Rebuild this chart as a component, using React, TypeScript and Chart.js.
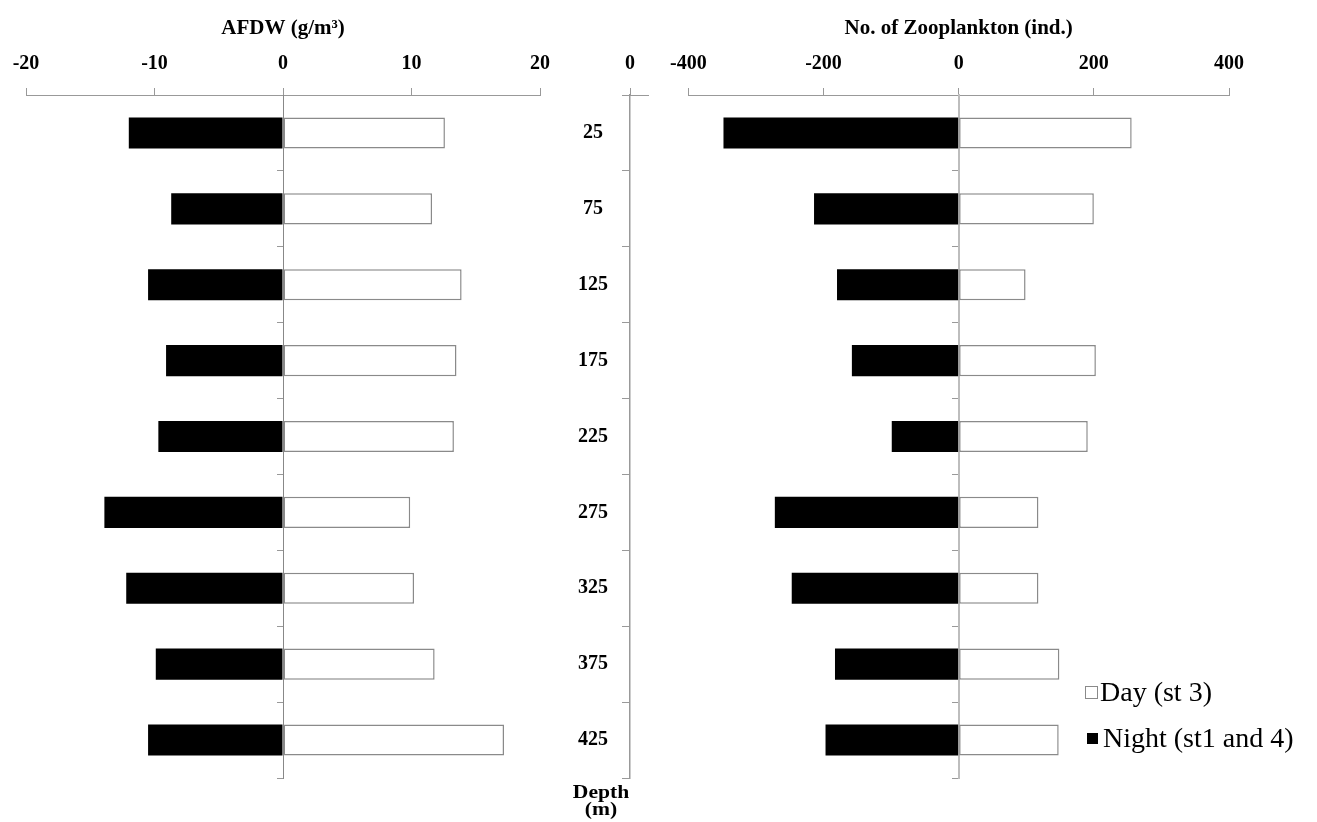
import React, { useEffect, useRef } from "react";
import { Chart, registerables } from "chart.js";

Chart.register(...registerables);

const SERIF = '"Liberation Serif", "Times New Roman", Times, serif';

// ---- data ----
const depths = ["25", "75", "125", "175", "225", "275", "325", "375", "425"];
const afdwNight = [-12.0, -8.7, -10.5, -9.1, -9.7, -13.9, -12.2, -9.9, -10.5];
const afdwDay = [12.6, 11.6, 13.9, 13.5, 13.3, 9.9, 10.2, 11.8, 17.2];
const zooNight = [-348, -214, -180, -158, -99, -272, -247, -183, -197];
const zooDay = [256, 200, 99, 203, 191, 118, 118, 149, 148];
const afdwTicks = [-20, -10, 0, 10, 20];
const zooTicks = [-400, -200, 0, 200, 400];
const centerTicks = [0];
const dayLabel = "Day (st 3)";
const nightLabel = "Night (st1 and 4)";

const AXIS_H = 95;

function sideConfig(
  night: number[],
  day: number[],
  ticks: number[],
  title: string,
  padding: { left: number; right: number },
  zeroColor: string,
  zeroWidth: number
): any {
  return {
    type: "bar",
    data: {
      labels: depths,
      datasets: [
        {
          label: nightLabel,
          data: night,
          backgroundColor: "#000",
          borderColor: "#000",
          borderWidth: 0,
          barPercentage: 0.41,
          categoryPercentage: 1,
        },
        {
          label: dayLabel,
          data: day,
          backgroundColor: "#fff",
          borderColor: "#8a8a8a",
          borderWidth: 1.5,
          borderSkipped: false,
          barPercentage: 0.41,
          categoryPercentage: 1,
        },
      ],
    },
    options: {
      indexAxis: "y",
      animation: false,
      responsive: false,
      layout: { padding: { left: padding.left, right: padding.right, top: 0, bottom: 44 } },
      plugins: { legend: { display: false }, tooltip: { enabled: false } },
      scales: {
        x: {
          type: "linear",
          position: "top",
          stacked: true,
          min: ticks[0],
          max: ticks[ticks.length - 1],
          afterBuildTicks: (s: any) => {
            s.ticks = ticks.map((v) => ({ value: v }));
          },
          afterFit: (s: any) => {
            s.height = AXIS_H;
          },
          ticks: {
            padding: 12,
            color: "#000",
            font: { family: SERIF, size: 20, weight: "bold" },
          },
          grid: { drawOnChartArea: false, tickLength: 7, color: "#999" },
          border: { color: "#999", width: 1 },
          title: {
            display: true,
            text: title,
            color: "#000",
            font: { family: SERIF, size: 21, weight: "bold" },
            padding: { top: 16, bottom: 0 },
          },
        },
        y: {
          type: "category",
          position: { x: 0 },
          stacked: true,
          offset: true,
          ticks: { display: false },
          grid: { offset: true, drawOnChartArea: false, tickLength: 6, color: "#999" },
          border: { color: zeroColor, width: zeroWidth },
        },
      },
    },
  };
}

function centerConfig(): any {
  return {
    type: "bar",
    data: { labels: depths, datasets: [] },
    options: {
      indexAxis: "y",
      animation: false,
      responsive: false,
      layout: { padding: { left: 30, right: 12, top: 0, bottom: 44 } },
      plugins: { legend: { display: false }, tooltip: { enabled: false } },
      scales: {
        x: {
          type: "linear",
          position: "top",
          min: 0,
          max: 1,
          afterBuildTicks: (s: any) => {
            s.ticks = centerTicks.map((v) => ({ value: v }));
          },
          afterFit: (s: any) => {
            s.height = AXIS_H;
          },
          ticks: {
            padding: 12,
            color: "#000",
            font: { family: SERIF, size: 20, weight: "bold" },
          },
          grid: { drawOnChartArea: false, tickLength: 7, color: "#999" },
          border: { color: "#999", width: 1 },
        },
        y: {
          type: "category",
          position: "left",
          offset: true,
          afterFit: (s: any) => {
            s.width = 60;
          },
          ticks: {
            padding: 14,
            crossAlign: "center",
            color: "#000",
            font: { family: SERIF, size: 20, weight: "bold" },
          },
          grid: { offset: true, drawOnChartArea: false, tickLength: 8, color: "#999" },
          border: { color: "#999", width: 1.5 },
        },
      },
    },
  };
}

export default function App() {
  const leftRef = useRef<HTMLCanvasElement>(null);
  const midRef = useRef<HTMLCanvasElement>(null);
  const rightRef = useRef<HTMLCanvasElement>(null);

  useEffect(() => {
    const charts = [
      new Chart(
        leftRef.current!,
        sideConfig(afdwNight, afdwDay, afdwTicks, "AFDW (g/m³)", { left: 26, right: 22 }, "#888", 1)
      ),
      new Chart(midRef.current!, centerConfig()),
      new Chart(
        rightRef.current!,
        sideConfig(zooNight, zooDay, zooTicks, "No. of Zooplankton (ind.)", { left: 30, right: 88 }, "#bdbdbd", 2)
      ),
    ];
    return () => charts.forEach((c) => c.destroy());
  }, []);

  const legendText: React.CSSProperties = {
    fontFamily: SERIF,
    fontSize: 28,
    color: "#000",
    whiteSpace: "nowrap",
  };

  return (
    <div
      style={{
        position: "fixed",
        left: 0,
        top: 0,
        width: 1317,
        height: 822,
        background: "#fff",
        overflow: "hidden",
      }}
    >
      <canvas ref={leftRef} width={562} height={822} style={{ position: "absolute", left: 0, top: 0 }} />
      <canvas ref={midRef} width={120} height={822} style={{ position: "absolute", left: 540, top: 0 }} />
      <canvas ref={rightRef} width={659} height={822} style={{ position: "absolute", left: 658, top: 0 }} />
      <div
        style={{
          position: "absolute",
          left: 556,
          top: 784,
          width: 90,
          textAlign: "center",
          fontFamily: SERIF,
          fontWeight: "bold",
          fontSize: 18,
          lineHeight: "17px",
          color: "#000",
          transform: "scaleX(1.2)",
        }}
      >
        Depth
        <br />
        (m)
      </div>
      <div style={{ position: "absolute", left: 1085, top: 669 }}>
        <div style={{ display: "flex", alignItems: "center", height: 46 }}>
          <span
            style={{
              display: "inline-block",
              width: 11,
              height: 11,
              border: "1px solid #8a8a8a",
              background: "#fff",
            }}
          />
          <span style={{ ...legendText, marginLeft: 2 }}>{dayLabel}</span>
        </div>
        <div style={{ display: "flex", alignItems: "center", height: 46 }}>
          <span
            style={{
              display: "inline-block",
              width: 11,
              height: 11,
              marginLeft: 2,
              background: "#000",
            }}
          />
          <span style={{ ...legendText, marginLeft: 5 }}>{nightLabel}</span>
        </div>
      </div>
    </div>
  );
}
